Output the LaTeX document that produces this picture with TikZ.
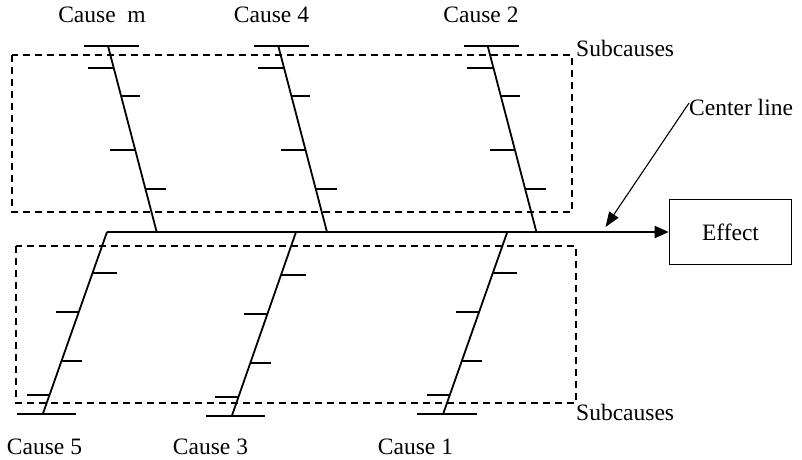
\documentclass[tikz,border=0pt]{standalone}
\usepackage{fontspec}
\setmainfont{Liberation Serif}
\usetikzlibrary{arrows.meta,calc}
\begin{document}
\begin{tikzpicture}[x=1pt,y=-1pt,
  bone/.style={line width=1.8pt},
  rib/.style={line width=2pt},
  subbox/.style={line width=1.5pt, dash pattern=on 7pt off 5pt},
  lbl/.style={font=\fontsize{23.5}{28}\selectfont, inner sep=0pt},
  pointer/.style={line width=1.1pt, -{Triangle[length=15pt,width=11pt]}}]
\useasboundingbox (0,0) rectangle (802,459);

% dashed subcause regions
\draw[subbox] (12,55) rectangle (572,212);
\draw[subbox] (16,246) rectangle (576,403);

% effect box and center line
\node[lbl, draw, line width=1.6pt, minimum width=122pt, minimum height=65pt] (effect) at (730.5,232) {Effect};
\coordinate (head) at (107,232);
\draw[bone, -{Triangle[length=14pt,width=12pt]}] (head) -- (effect.west);

% top bones
\foreach \n/\x in {m/108, f/278.3, b/487.7} {
  \coordinate (T\n) at (\x,46);
  \coordinate (B\n) at (\x+48.7,232);
  \draw[bone] (T\n) -- (B\n);
  \draw[rib] ($(T\n)+(-24,0)$) -- ($(T\n)+(31,0)$);
  \foreach \ry/\len in {68/-26, 96/19, 150/-25, 189/21} {
    \pgfmathsetmacro{\tt}{(\ry-46)/186}
    \draw[rib] ($(T\n)!\tt!(B\n)$) -- ++(\len,0);
  }
}

% bottom bones
\foreach \n/\x/\by/\sh in {e/107/414/0, c/296/416/2, a/507.3/414/0} {
  \coordinate (U\n) at (\x,232);
  \coordinate (L\n) at (\x-64.2,\by);
  \draw[bone] (U\n) -- (L\n);
  \draw[rib] ($(L\n)+(-26,0)$) -- ($(L\n)+(33.5,0)$);
  \foreach \ry/\len in {273/24.5, 312/-23, 361/20.5, 395/-23} {
    \pgfmathsetmacro{\tt}{(\ry+\sh-232)/(\by-232)}
    \draw[rib] ($(U\n)!\tt!(L\n)$) -- ++(\len,0);
  }
}

% labels
\node[lbl] (cm) at (102,15) {Cause~~m};
\node[lbl] (c4) at (271.5,15) {Cause 4};
\node[lbl] (c2) at (481,15) {Cause 2};
\node[lbl] (c5) at (44.5,446.5) {Cause 5};
\node[lbl] (c3) at (210.5,446.5) {Cause 3};
\node[lbl] (c1) at (415.5,446.5) {Cause 1};
\node[lbl, anchor=west] (subt) at (576,48) {Subcauses};
\node[lbl, anchor=west] (subb) at (576,412.5) {Subcauses};
\node[lbl, anchor=west] (cl) at (689,107) {Center line};
\coordinate (clend) at (605.5,227);
\draw[pointer] ($(cl.west)+(0,-4)$) -- (clend);
\end{tikzpicture}
\end{document}
